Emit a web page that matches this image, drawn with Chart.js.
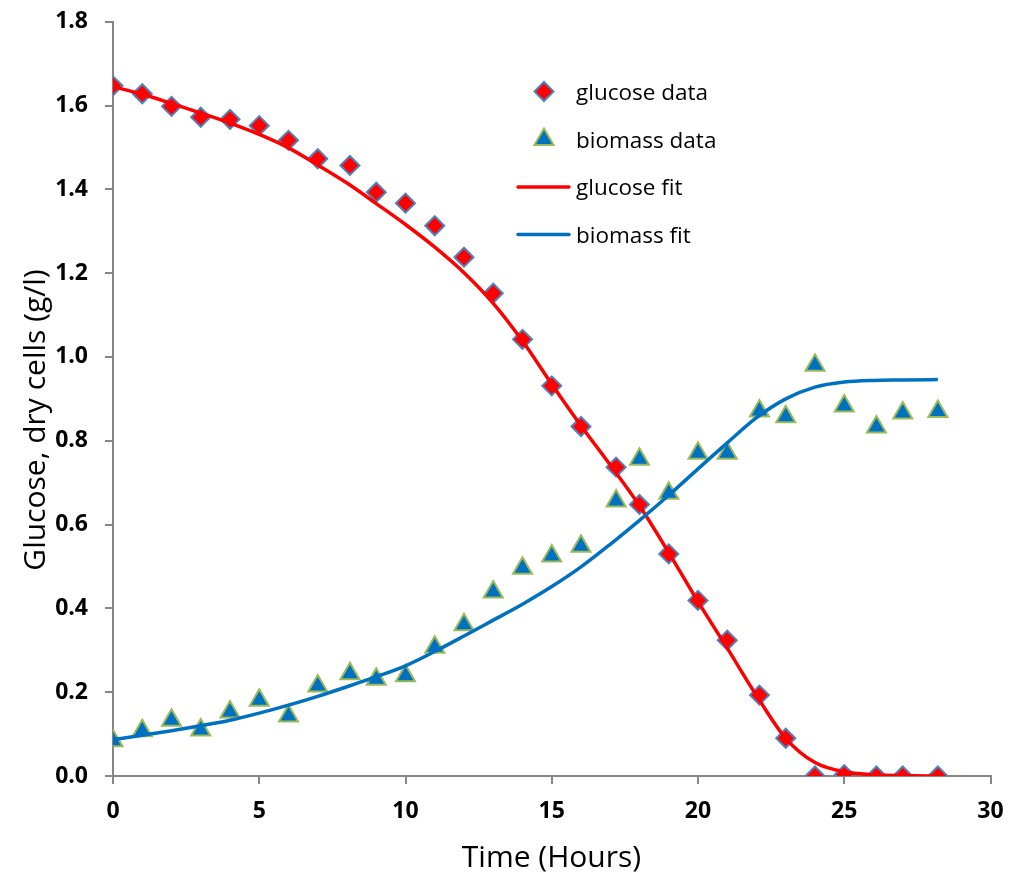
<!DOCTYPE html>
<html>
<head>
<meta charset="utf-8">
<title>Glucose and biomass vs time</title>
<script src="https://cdn.jsdelivr.net/npm/chart.js@4/dist/chart.umd.min.js"></script>
<style>
  html, body { margin: 0; padding: 0; background: #fff; }
  #wrap { width: 1009px; height: 875px; position: relative; }
</style>
</head>
<body>
<div id="wrap"><canvas id="kineticsChart"></canvas></div>
<script>
// ------------------ Measured data ------------------
const sampleTimes = [0, 1, 2, 3, 4, 5, 6, 7, 8.1, 9, 10, 11, 12, 13, 14, 15, 16, 17.2, 18, 19, 20, 21, 22.1, 23, 24, 25, 26.1, 27, 28.2];
const glucoseData = [1.647, 1.628, 1.598, 1.572, 1.567, 1.552, 1.517, 1.473, 1.457, 1.393, 1.367, 1.313, 1.238, 1.152, 1.042, 0.931, 0.834, 0.737, 0.648, 0.530, 0.419, 0.324, 0.193, 0.090, 0.0, 0.003, 0.0, 0.0, 0.0];
const biomassData = [0.084, 0.108, 0.133, 0.110, 0.153, 0.181, 0.143, 0.215, 0.244, 0.231, 0.239, 0.307, 0.361, 0.439, 0.496, 0.525, 0.548, 0.656, 0.756, 0.675, 0.770, 0.770, 0.871, 0.857, 0.980, 0.883, 0.833, 0.866, 0.870];

// ------------------ Model fit curves ------------------
const fitTimes = [0, 1, 2, 3, 4, 5, 6, 7, 8, 9, 10, 11, 12, 13, 14, 15, 16, 17, 18, 19, 20, 21, 22, 23, 24, 25, 26, 27, 28.2];
const glucoseFit = [1.645, 1.627, 1.605, 1.582, 1.558, 1.531, 1.499, 1.458, 1.415, 1.366, 1.316, 1.262, 1.201, 1.128, 1.038, 0.935, 0.836, 0.742, 0.645, 0.533, 0.416, 0.305, 0.192, 0.090, 0.032, 0.010, 0.003, 0.001, 0.0];
const biomassFit = [0.087, 0.097, 0.108, 0.120, 0.133, 0.150, 0.169, 0.190, 0.213, 0.237, 0.263, 0.297, 0.334, 0.372, 0.410, 0.452, 0.499, 0.553, 0.610, 0.670, 0.733, 0.795, 0.855, 0.900, 0.928, 0.940, 0.944, 0.945, 0.946];

const seriesNames = ["glucose data", "biomass data", "glucose fit", "biomass fit"];
const xTitle = "Time (Hours)";
const yTitle = "Glucose, dry cells (g/l)";

const AXIS_GREY = "#868686";
const FONT = "'Open Sans', 'Liberation Sans', sans-serif";

function toPoints(xs, ys) {
    return xs.map((x, i) => ({ x, y: ys[i] }));
}

// Axis titles + the in-plot legend (drawn on top of the chart area)
const annotate = {
    id: "annotate",
    afterDraw(chart) {
        const ctx = chart.ctx;
        const ds = chart.data.datasets;
        ctx.save();
        ctx.fillStyle = "#000";
        ctx.font = `30px ${FONT}`;
        ctx.textAlign = "center";
        ctx.textBaseline = "alphabetic";
        ctx.fillText(xTitle, 551.5, 867);

        ctx.save();
        ctx.translate(45, 420);
        ctx.rotate(-Math.PI / 2);
        ctx.fillText(yTitle, 0, 0);
        ctx.restore();

        // legend rows
        const rows = [91.5, 139.5, 187, 234.5];
        ctx.font = `22.5px ${FONT}`;
        ctx.textAlign = "left";
        rows.forEach((y, i) => {
            const d = ds[i];
            if (d.showLine === false) {
                ctx.fillStyle = d.backgroundColor;
                ctx.strokeStyle = d.borderColor;
                ctx.lineWidth = d.borderWidth;
                Chart.helpers.drawPoint(ctx, {
                    pointStyle: d.pointStyle,
                    radius: d.pointRadius,
                    rotation: 0,
                    borderWidth: d.borderWidth
                }, 544, y);
            } else {
                ctx.strokeStyle = d.borderColor;
                ctx.lineWidth = d.borderWidth;
                ctx.lineCap = "round";
                ctx.beginPath();
                ctx.moveTo(518, y);
                ctx.lineTo(569, y);
                ctx.stroke();
            }
            ctx.fillStyle = "#000";
            ctx.fillText(seriesNames[i], 576, y + 8);
        });
        ctx.restore();
    }
};

const tickFont = { family: FONT, size: 23, weight: "bold" };

new Chart(document.getElementById("kineticsChart"), {
    type: "scatter",
    data: {
        datasets: [{
            label: seriesNames[0],
            data: toPoints(sampleTimes, glucoseData),
            showLine: false,
            pointStyle: "rectRot",
            pointRadius: 9.5,
            backgroundColor: "#ff0000",
            borderColor: "#4f81bd",
            borderWidth: 2,
            order: 3
        }, {
            label: seriesNames[1],
            data: toPoints(sampleTimes, biomassData),
            showLine: false,
            pointStyle: "triangle",
            pointRadius: 11,
            backgroundColor: "#0070c0",
            borderColor: "#9bbb59",
            borderWidth: 2,
            order: 2
        }, {
            label: seriesNames[2],
            data: toPoints(fitTimes, glucoseFit),
            showLine: true,
            pointRadius: 0,
            borderColor: "#ff0000",
            backgroundColor: "#ff0000",
            borderWidth: 3.5,
            cubicInterpolationMode: "monotone",
            order: 1
        }, {
            label: seriesNames[3],
            data: toPoints(fitTimes, biomassFit),
            showLine: true,
            pointRadius: 0,
            borderColor: "#0070c0",
            backgroundColor: "#0070c0",
            borderWidth: 3.5,
            cubicInterpolationMode: "monotone",
            order: 0
        }]
    },
    options: {
        responsive: true,
        maintainAspectRatio: false,
        animation: false,
        layout: { padding: { left: 0, right: 18.5, top: 21.7, bottom: 0 } },
        plugins: {
            legend: { display: false },
            tooltip: { enabled: false }
        },
        scales: {
            x: {
                type: "linear",
                min: 0,
                max: 30,
                ticks: { stepSize: 5, color: "#000", font: tickFont, padding: 14 },
                grid: { drawOnChartArea: false, drawTicks: true, tickLength: 8, color: AXIS_GREY, lineWidth: 2 },
                border: { display: true, color: AXIS_GREY, width: 2 },
                afterFit(scale) {
                    scale.height = 99;
                    // keep the plot edge fixed; labels may overhang into the margin
                    scale.paddingLeft = 0;
                    scale.paddingRight = 0;
                }
            },
            y: {
                min: 0,
                max: 1.8,
                ticks: {
                    stepSize: 0.2,
                    color: "#000",
                    font: tickFont,
                    padding: 17,
                    callback: v => v.toFixed(1)
                },
                grid: { drawOnChartArea: false, drawTicks: true, tickLength: 8, color: AXIS_GREY, lineWidth: 2 },
                border: { display: true, color: AXIS_GREY, width: 2 },
                afterFit(scale) {
                    scale.width = 113;
                    scale.paddingTop = 0;
                    scale.paddingBottom = 0;
                }
            }
        }
    },
    plugins: [annotate]
});
</script>
</body>
</html>
